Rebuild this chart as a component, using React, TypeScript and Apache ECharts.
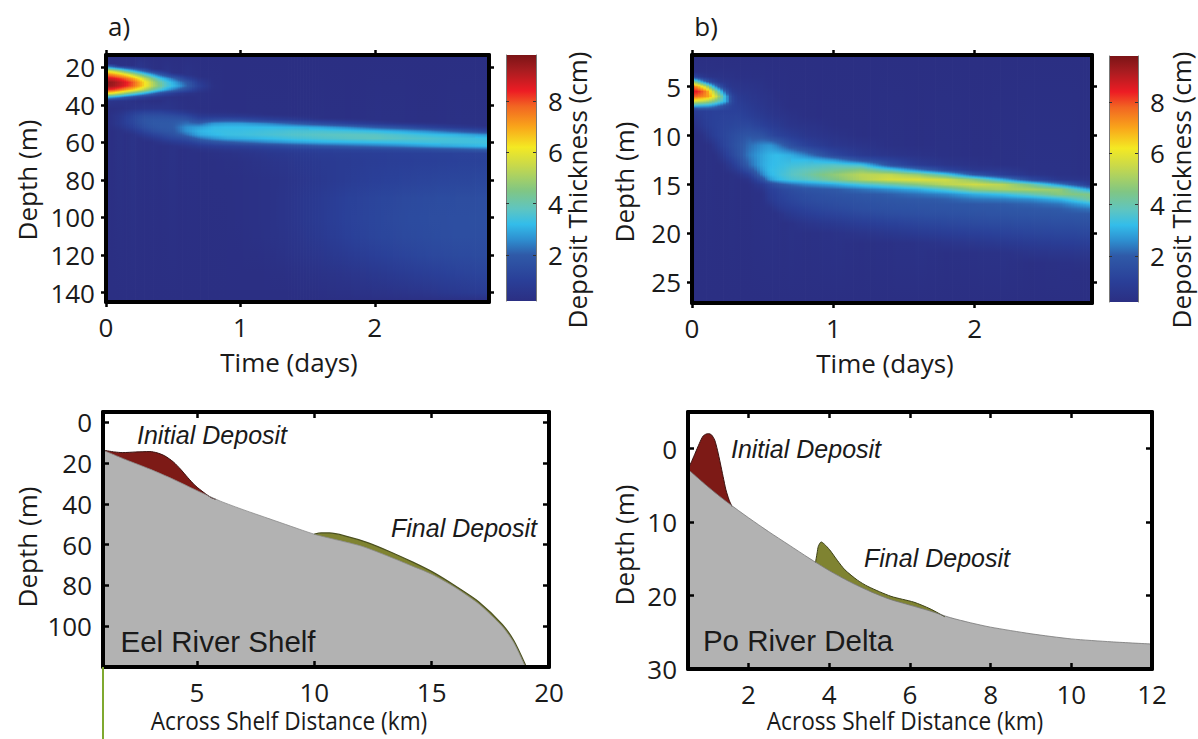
import { useEffect, useRef } from 'react';
import * as echarts from 'echarts';

const LABEL_FONT = '"Open Sans", sans-serif';
const NOTE_FONT = '"Liberation Sans", sans-serif';

// colour scale of the bars: thickness (cm) -> colour
const scaleValues = [0.2, 1, 2, 2.6, 3.2, 3.8, 4.5, 5.5, 6.2, 7, 7.8, 8.4, 9.2, 9.8];
const scaleColors = ['#2b2f83', '#2a3f98', '#2f5aa8', '#2e8fd0', '#33bdea', '#5fc5c0', '#80c684', '#c9d94a', '#f4e923', '#f9a51a', '#f26522', '#ed1c24', '#a81c20', '#7b1416'];
const BASE_THICKNESS = 0.2;

// a) Eel: one thickness profile per time, as [depth, thickness]
const timesA = [0, 0.05, 0.1, 0.15, 0.2, 0.25, 0.3, 0.35, 0.4, 0.45, 0.5, 0.55, 0.6, 0.7, 0.8, 0.9, 1, 1.2, 1.4, 1.6, 1.8, 2, 2.2, 2.4, 2.6, 2.83];
const profilesA: number[][][] = [
  [[18, 0.3], [20, 3], [22, 6], [24, 7.6], [26, 8.8], [28, 9.6], [30, 9.5], [32, 8.4], [34, 6.2], [36, 3.2], [38, 0.6], [42, 0.25]],
  [[18, 0.25], [20, 2.4], [22, 5.5], [24, 7.3], [26, 8.6], [28, 9.4], [30, 9.3], [32, 8.2], [34, 5.9], [36, 2.8], [38, 0.5], [42, 0.25], [46, 0.4], [50, 0.4], [54, 0.22]],
  [[19, 0.3], [20, 1.8], [22, 4.8], [24, 6.8], [26, 8.2], [28, 9], [30, 8.9], [32, 7.7], [34, 5.3], [36, 2.4], [38, 0.45], [42, 0.28], [46, 0.6], [50, 0.65], [54, 0.35]],
  [[19, 0.3], [20, 1.3], [22, 3.9], [24, 6.2], [26, 7.7], [28, 8.5], [30, 8.4], [32, 7.1], [34, 4.6], [36, 1.9], [38, 0.4], [42, 0.35], [44, 0.65], [46, 0.9], [48, 1], [50, 0.95], [52, 0.75], [54, 0.45], [56, 0.25]],
  [[19, 0.25], [20, 0.9], [22, 3.2], [24, 5.4], [26, 7], [28, 7.9], [30, 7.8], [32, 6.5], [34, 4], [36, 1.5], [38, 0.35], [42, 0.45], [44, 0.9], [46, 1.2], [48, 1.3], [50, 1.25], [52, 1.05], [54, 0.7], [56, 0.4]],
  [[20, 0.6], [22, 2.4], [24, 4.5], [26, 6.2], [28, 7], [30, 7], [32, 5.8], [34, 3.4], [36, 1.1], [38, 0.3], [42, 0.5], [44, 1.05], [46, 1.45], [48, 1.6], [50, 1.55], [52, 1.35], [54, 1], [56, 0.6], [58, 0.3]],
  [[20, 0.4], [22, 1.7], [24, 3.6], [26, 5.2], [28, 6.1], [30, 6.1], [32, 5], [34, 2.8], [36, 0.8], [38, 0.28], [42, 0.55], [44, 1.15], [46, 1.6], [48, 1.8], [50, 1.8], [52, 1.65], [54, 1.3], [56, 0.85], [58, 0.45], [60, 0.25]],
  [[21, 0.3], [22, 1.1], [24, 2.8], [26, 4.3], [28, 5.1], [30, 5.2], [32, 4.2], [34, 2.2], [36, 0.6], [38, 0.25], [42, 0.55], [44, 1.15], [46, 1.6], [48, 1.85], [50, 1.9], [52, 1.8], [54, 1.55], [56, 1.1], [58, 0.65], [60, 0.32]],
  [[21, 0.25], [22, 0.7], [24, 2], [26, 3.4], [28, 4.2], [30, 4.4], [32, 3.5], [34, 1.6], [36, 0.45], [38, 0.22], [42, 0.55], [44, 1.15], [46, 1.6], [48, 1.85], [50, 1.95], [52, 1.9], [54, 1.7], [56, 1.3], [58, 0.85], [60, 0.45], [62, 0.25]],
  [[22, 0.4], [24, 1.4], [26, 2.8], [28, 3.5], [30, 3.6], [32, 2.9], [34, 1.2], [36, 0.35], [42, 0.5], [44, 1.05], [46, 1.55], [48, 1.85], [50, 1.95], [52, 1.95], [54, 1.85], [56, 1.5], [58, 1.1], [60, 0.6], [62, 0.3]],
  [[23, 0.3], [24, 0.9], [26, 2.2], [28, 3], [30, 3.2], [32, 2.4], [34, 0.9], [36, 0.3], [42, 0.45], [44, 0.95], [46, 1.5], [48, 1.85], [50, 2], [52, 2], [54, 1.9], [56, 1.65], [58, 1.25], [60, 0.75], [62, 0.38]],
  [[23, 0.25], [24, 0.6], [26, 1.6], [28, 2.4], [30, 2.7], [32, 1.9], [34, 0.6], [36, 0.25], [42, 0.35], [44, 0.8], [46, 1.4], [48, 1.85], [50, 2.1], [52, 2.3], [54, 2.25], [56, 1.9], [58, 1.35], [60, 0.85], [62, 0.42], [64, 0.24]],
  [[24, 0.4], [26, 1.1], [28, 1.9], [30, 2.1], [32, 1.5], [34, 0.45], [36, 0.22], [42, 0.3], [44, 0.65], [46, 1.3], [48, 1.8], [50, 2.25], [52, 2.65], [54, 2.65], [56, 2.25], [58, 1.55], [60, 0.95], [62, 0.5], [64, 0.28]],
  [[25, 0.25], [26, 0.4], [28, 0.7], [30, 0.9], [32, 0.6], [34, 0.3], [42, 0.25], [44, 0.35], [46, 0.7], [48, 1.3], [50, 2.1], [52, 2.85], [54, 3.1], [56, 2.95], [58, 2.2], [60, 1.4], [62, 0.75], [64, 0.38], [66, 0.25]],
  [[28, 0.25], [30, 0.3], [32, 0.25], [42, 0.22], [44, 0.3], [46, 0.7], [48, 1.5], [50, 2.7], [52, 3.15], [54, 3.25], [56, 3.15], [58, 2.6], [60, 1.7], [62, 0.9], [64, 0.45], [66, 0.3], [70, 0.25]],
  [[42, 0.22], [44, 0.3], [46, 0.65], [48, 1.6], [50, 2.8], [52, 3.2], [54, 3.3], [56, 3.3], [58, 2.9], [60, 1.9], [62, 1], [64, 0.55], [66, 0.35], [70, 0.28], [80, 0.25]],
  [[43, 0.22], [44, 0.25], [46, 0.6], [48, 1.5], [50, 2.8], [52, 3.2], [54, 3.3], [56, 3.35], [58, 3], [60, 2.1], [62, 1.1], [64, 0.6], [66, 0.42], [70, 0.3], [80, 0.27], [100, 0.27], [120, 0.22]],
  [[45, 0.25], [46, 0.45], [48, 1.1], [50, 2.5], [52, 3.2], [54, 3.4], [56, 3.5], [58, 3.2], [60, 2.5], [62, 1.3], [64, 0.8], [66, 0.6], [70, 0.45], [80, 0.35], [90, 0.35], [100, 0.35], [110, 0.35], [120, 0.28], [130, 0.22]],
  [[45, 0.22], [46, 0.3], [48, 0.8], [50, 2], [52, 3.1], [54, 3.5], [56, 3.65], [58, 3.4], [60, 2.8], [62, 1.6], [64, 0.95], [66, 0.72], [70, 0.6], [80, 0.5], [90, 0.55], [100, 0.55], [110, 0.5], [120, 0.42], [130, 0.28], [140, 0.22]],
  [[47, 0.28], [48, 0.55], [50, 1.5], [52, 2.9], [54, 3.5], [56, 3.75], [58, 3.55], [60, 3], [62, 1.9], [64, 1.05], [66, 0.85], [70, 0.72], [80, 0.68], [90, 0.78], [100, 0.8], [110, 0.72], [120, 0.58], [130, 0.38], [140, 0.26]],
  [[47, 0.22], [48, 0.4], [50, 1.1], [52, 2.5], [54, 3.4], [56, 3.8], [58, 3.7], [60, 3.1], [62, 2.1], [64, 1.15], [66, 0.9], [70, 0.82], [80, 0.85], [90, 1.05], [100, 1.08], [110, 1], [120, 0.78], [130, 0.5], [140, 0.32]],
  [[48, 0.3], [50, 0.8], [52, 2], [54, 3.2], [56, 3.75], [58, 3.8], [60, 3.2], [62, 2.3], [64, 1.25], [66, 0.95], [70, 0.9], [80, 1], [90, 1.2], [100, 1.25], [110, 1.2], [120, 0.98], [130, 0.65], [140, 0.38]],
  [[49, 0.28], [50, 0.55], [52, 1.6], [54, 2.9], [56, 3.55], [58, 3.7], [60, 3.3], [62, 2.5], [64, 1.35], [66, 1], [70, 0.95], [80, 1.1], [90, 1.35], [100, 1.4], [110, 1.35], [120, 1.15], [130, 0.8], [140, 0.45], [145, 0.3]],
  [[49, 0.24], [50, 0.4], [52, 1.1], [54, 2.5], [56, 3.3], [58, 3.6], [60, 3.4], [62, 2.8], [64, 1.5], [66, 1.05], [70, 1], [80, 1.2], [90, 1.45], [100, 1.5], [110, 1.45], [120, 1.3], [130, 0.95], [140, 0.55], [145, 0.35]],
  [[50, 0.3], [52, 0.75], [54, 1.9], [56, 3.1], [58, 3.45], [60, 3.4], [62, 3], [64, 1.7], [66, 1.1], [70, 1.05], [80, 1.25], [90, 1.5], [100, 1.55], [110, 1.55], [120, 1.4], [130, 1.1], [140, 0.7], [145, 0.45]],
  [[51, 0.28], [52, 0.5], [54, 1.2], [56, 2.7], [58, 3.3], [60, 3.4], [62, 3.2], [64, 2], [66, 1.15], [70, 1.1], [80, 1.3], [90, 1.55], [100, 1.6], [110, 1.55], [120, 1.45], [130, 1.2], [140, 0.85], [145, 0.55]],
];

// b) Po: same layout
const timesB = [0, 0.04, 0.08, 0.12, 0.16, 0.2, 0.24, 0.28, 0.32, 0.4, 0.5, 0.55, 0.6, 0.65, 0.7, 0.8, 0.9, 1, 1.2, 1.4, 1.6, 1.8, 2, 2.2, 2.4, 2.6, 2.83];
const profilesB: number[][][] = [
  [[3.5, 0.35], [4, 1.5], [4.5, 5], [5, 8], [5.5, 8.7], [6, 8], [6.5, 6], [7, 3], [7.3, 1.2], [7.5, 0.8], [8, 0.6], [8.5, 0.4], [9, 0.25]],
  [[3.5, 0.3], [4, 1], [4.5, 3.8], [5, 7], [5.5, 8.4], [6, 7.7], [6.5, 5.6], [7, 2.9], [7.5, 0.85], [8, 0.75], [9, 0.5], [10, 0.25]],
  [[3.5, 0.28], [4, 0.6], [4.5, 2.6], [5, 6], [5.5, 7.8], [6, 7.4], [6.5, 5.4], [7, 2.8], [7.5, 0.95], [8, 0.9], [9, 0.75], [10, 0.4], [11, 0.22]],
  [[3.5, 0.28], [4, 0.45], [4.5, 1.6], [5, 4.5], [5.5, 6.8], [6, 7], [6.5, 5], [7, 2.7], [7.5, 1], [8, 1], [9, 0.95], [10, 0.7], [11, 0.3]],
  [[3.5, 0.28], [4, 0.4], [4.5, 1], [5, 2.8], [5.5, 5], [6, 6], [6.5, 4.4], [7, 2.4], [7.5, 1.05], [8, 1.05], [9, 1.05], [10, 0.95], [11, 0.55], [12, 0.25]],
  [[3, 0.25], [4, 0.4], [4.5, 0.6], [5, 1.6], [5.5, 3.4], [6, 4.5], [6.5, 3.7], [7, 1.9], [7.5, 1.05], [8, 1.1], [9, 1.15], [10, 1.15], [11, 0.95], [12, 0.55], [13, 0.25]],
  [[3, 0.25], [4, 0.35], [4.5, 0.5], [5, 0.8], [5.5, 1.8], [6, 3], [6.5, 3], [7, 1.4], [7.5, 1.05], [8, 1.1], [9, 1.2], [10, 1.3], [11, 1.25], [12, 0.95], [13, 0.45], [14, 0.22]],
  [[3, 0.25], [4, 0.35], [4.5, 0.45], [5, 0.55], [5.5, 0.8], [6, 1.3], [6.5, 1.4], [7, 1.1], [7.5, 1.05], [8, 1.1], [9, 1.25], [10, 1.45], [11, 1.5], [12, 1.3], [13, 0.75], [14, 0.3]],
  [[3, 0.25], [4, 0.3], [5, 0.5], [5.5, 0.6], [6, 0.75], [7, 0.95], [8, 1.15], [9, 1.3], [10, 1.6], [11, 1.75], [12, 1.65], [13, 1.15], [14, 0.4], [14.5, 0.25]],
  [[3, 0.25], [4, 0.3], [5, 0.45], [6, 0.6], [7, 0.75], [8, 0.95], [9, 1.35], [10, 1.8], [11, 2.2], [12, 2.35], [13, 2.1], [13.5, 1.6], [14, 0.9], [14.5, 0.4], [15, 0.25]],
  [[4, 0.28], [5, 0.38], [6, 0.45], [7, 0.55], [8, 0.7], [9, 1.05], [10, 1.7], [11, 2.6], [12, 2.9], [13, 2.95], [13.5, 2.8], [14, 2.5], [14.5, 1.7], [15, 0.8], [15.5, 0.5], [16, 0.35]],
  [[5, 0.28], [6, 0.4], [7, 0.45], [8, 0.6], [9, 0.85], [10, 1.4], [11, 2.7], [12, 3.1], [13, 3.15], [13.5, 3.2], [14, 3.1], [14.5, 2.7], [15, 1.3], [15.5, 0.95], [16, 0.85], [16.5, 0.75], [17, 0.55], [17.5, 0.35]],
  [[6, 0.28], [7, 0.4], [8, 0.5], [9, 0.75], [10, 1.15], [11, 2.4], [12, 3.2], [13, 3.25], [13.5, 3.3], [14, 3.3], [14.5, 3.1], [15, 1.7], [15.5, 1.15], [16, 1.05], [16.5, 0.95], [17, 0.8], [17.5, 0.6], [18, 0.35]],
  [[7, 0.28], [9, 0.6], [10, 1], [11, 2], [12, 3.1], [13, 3.3], [13.5, 3.4], [14, 3.5], [14.5, 3.3], [15, 2], [15.5, 1.35], [16, 1.2], [16.5, 1.1], [17, 0.95], [17.5, 0.8], [18, 0.55], [19, 0.28]],
  [[7, 0.25], [9, 0.5], [10, 0.85], [11, 1.6], [12, 3], [13, 3.4], [13.5, 3.6], [14, 3.7], [14.5, 3.5], [15, 2.2], [15.5, 1.5], [16, 1.35], [16.5, 1.25], [17, 1.1], [17.5, 0.9], [18, 0.7], [19, 0.35]],
  [[8, 0.25], [10, 0.6], [11, 1.1], [12, 2.5], [12.5, 3.2], [13, 3.5], [13.5, 3.8], [14, 4], [14.5, 3.7], [15, 2.5], [15.5, 1.75], [16, 1.55], [16.5, 1.45], [17, 1.3], [17.5, 1.1], [18, 0.9], [19, 0.5], [20, 0.28]],
  [[8, 0.22], [10, 0.5], [11, 0.8], [12, 1.9], [12.5, 3], [13, 3.6], [13.5, 4], [14, 4.4], [14.5, 4], [15, 2.7], [15.5, 1.85], [16, 1.65], [16.5, 1.55], [17, 1.4], [17.5, 1.25], [18, 1.05], [19, 0.6], [20, 0.32]],
  [[9, 0.25], [10, 0.4], [11, 0.6], [12, 1.3], [12.5, 2.7], [13, 3.7], [13.5, 4.2], [14, 4.7], [14.5, 4.4], [15, 2.9], [15.5, 1.95], [16, 1.75], [16.5, 1.6], [17, 1.5], [17.5, 1.35], [18, 1.15], [19, 0.7], [20, 0.38]],
  [[10, 0.25], [11, 0.45], [12, 0.7], [12.5, 1.6], [13, 3.4], [13.5, 4.6], [14, 5.3], [14.5, 5.2], [15, 3.5], [15.5, 2.25], [16, 1.9], [16.5, 1.75], [17, 1.65], [17.5, 1.55], [18, 1.35], [19, 0.9], [20, 0.5], [21, 0.27]],
  [[11, 0.3], [12, 0.5], [13, 1.6], [13.5, 3.6], [14, 5.4], [14.5, 5.7], [15, 4], [15.5, 2.6], [16, 2.05], [16.5, 1.85], [17, 1.75], [17.5, 1.65], [18, 1.5], [19, 1.05], [20, 0.62], [21, 0.32]],
  [[11, 0.25], [12, 0.38], [13, 0.8], [13.5, 2.4], [14, 4.8], [14.5, 5.8], [15, 4.6], [15.5, 3], [16, 2.25], [16.5, 1.95], [17, 1.8], [17.5, 1.7], [18, 1.6], [19, 1.2], [20, 0.78], [21, 0.38]],
  [[12, 0.3], [13, 0.5], [13.5, 1.2], [14, 3.6], [14.5, 5.6], [15, 5.3], [15.5, 3.7], [16, 2.5], [16.5, 2.05], [17, 1.85], [17.5, 1.75], [18, 1.65], [19, 1.3], [20, 0.9], [21, 0.5], [22, 0.27]],
  [[12, 0.25], [13, 0.38], [13.5, 0.6], [14, 1.8], [14.5, 4.6], [15, 5.6], [15.5, 4.7], [16, 3], [16.5, 2.3], [17, 1.9], [17.5, 1.8], [18, 1.7], [19, 1.4], [20, 1], [21, 0.6], [22, 0.32]],
  [[13, 0.3], [14, 0.9], [14.5, 3], [15, 5.3], [15.5, 5.1], [16, 3.3], [16.5, 2.4], [17, 2], [17.5, 1.85], [18, 1.75], [19, 1.45], [20, 1.1], [21, 0.7], [22, 0.38]],
  [[13.5, 0.35], [14, 0.5], [14.5, 1.4], [15, 4.2], [15.5, 5.1], [16, 3.9], [16.5, 2.6], [17, 2.1], [17.5, 1.9], [18, 1.8], [19, 1.5], [20, 1.2], [21, 0.8], [22, 0.48], [23, 0.25]],
  [[14, 0.35], [14.5, 0.6], [15, 2.6], [15.5, 4.8], [16, 4.6], [16.5, 3.1], [17, 2.3], [17.5, 2], [18, 1.85], [19, 1.55], [20, 1.25], [21, 0.9], [22, 0.55], [23, 0.3]],
  [[14, 0.3], [14.5, 0.42], [15, 0.7], [15.5, 2.7], [16, 4.5], [16.5, 4.3], [17, 3.1], [17.5, 2.3], [18, 1.9], [19, 1.6], [20, 1.3], [21, 0.95], [22, 0.6], [23, 0.35], [24, 0.22]],
];

// c) Eel River shelf section
const eelDistance = [1, 2, 3, 4, 5, 6, 7, 8, 9, 10, 11, 12, 13, 14, 15, 16, 17, 18, 18.5, 19];
const eelBed = [13.7, 18.5, 23, 28, 33.5, 38.7, 43, 47, 51, 54.9, 57.8, 60.7, 65, 69.7, 74.5, 81, 89, 100, 108, 120];
const eelInitialDistance = [1, 1.5, 1.84, 2.4, 3, 3.3, 3.63, 4, 4.3, 4.6, 4.94, 5.3, 5.6, 5.8];
const eelInitialTop = [13.7, 14.6, 14.9, 14.6, 14.4, 15, 16.5, 19.5, 23, 27, 31.2, 34.5, 36.9, 37.8];
const eelFinalDistance = [10, 10.3, 10.65, 11.3, 12.27, 13.25, 14.2, 15.05, 16, 17, 18, 18.5, 19];
const eelFinalTop = [54.9, 54.3, 54.3, 55.7, 59, 63.6, 68.6, 73.5, 80.2, 88, 99, 107, 119];

// d) Po River delta section
const poDistance = [0.5, 1, 1.5, 2, 2.5, 3, 3.5, 4, 4.5, 5, 5.5, 6, 6.5, 7, 7.5, 8, 9, 10, 11, 12];
const poBed = [2.8, 5.2, 7.4, 9.4, 11.3, 13.1, 14.9, 16.6, 18.1, 19.4, 20.5, 21.3, 22.1, 23, 23.7, 24.3, 25.2, 25.9, 26.3, 26.6];
const poInitialDistance = [0.5, 0.6, 0.68, 0.78, 0.87, 0.95, 1.01, 1.08, 1.16, 1.23, 1.3, 1.37, 1.44, 1.52, 1.59];
const poInitialTop = [2.8, 1.6, 0.59, -0.7, -1.7, -2, -2.05, -1.9, -1.2, 0.2, 1.95, 3.8, 5.6, 7, 7.86];
const poFinalDistance = [3.66, 3.7, 3.73, 3.8, 3.88, 4.01, 4.2, 4.39, 4.7, 4.96, 5.53, 6.1, 6.5, 6.87];
const poFinalTop = [15.5, 14.2, 13.3, 12.7, 13, 13.76, 15.2, 16.5, 17.9, 18.76, 20.1, 20.9, 21.8, 22.9];

const thicknessColor = (v: number) => {
  let i = 0;
  while (i < scaleValues.length - 2 && v > scaleValues[i + 1]) i++;
  const f = (v - scaleValues[i]) / (scaleValues[i + 1] - scaleValues[i]);
  return echarts.color.lerp(Math.min(1, Math.max(0, f)), [scaleColors[i], scaleColors[i + 1]]) as string;
};

const withEnds = (profile: number[][], dMin: number, dMax: number) => [[dMin, BASE_THICKNESS], ...profile, [dMax, BASE_THICKNESS]];

const profileAt = (pts: number[][], d: number) => {
  let i = 0;
  while (i < pts.length - 2 && d > pts[i + 1][0]) i++;
  const f = (d - pts[i][0]) / (pts[i + 1][0] - pts[i][0]);
  return pts[i][1] + (pts[i + 1][1] - pts[i][1]) * Math.min(1, Math.max(0, f));
};

// shading only, like matlab's "shading interp": one vertical gradient for a thin strip
// between two read profiles
const stripStops = (left: number[][], right: number[][], mix: number, dMin: number, dMax: number) => {
  const a = withEnds(left, dMin, dMax);
  const b = withEnds(right, dMin, dMax);
  const depths = Array.from(new Set([...a, ...b].map((p) => p[0]))).sort((p, q) => p - q);
  const valueAt = (d: number) => profileAt(a, d) * (1 - mix) + profileAt(b, d) * mix;
  const stops: { offset: number; color: string }[] = [];
  for (let i = 0; i < depths.length - 1; i++) {
    const v0 = valueAt(depths[i]);
    const v1 = valueAt(depths[i + 1]);
    const n = Math.abs(v1 - v0) > 0.5 ? 4 : 1;
    for (let k = 0; k < n; k++) {
      stops.push({
        offset: (depths[i] + ((depths[i + 1] - depths[i]) * k) / n - dMin) / (dMax - dMin),
        color: thicknessColor(v0 + ((v1 - v0) * k) / n),
      });
    }
  }
  stops.push({ offset: 1, color: thicknessColor(BASE_THICKNESS) });
  return stops;
};

const App = () => {
  const chartRef = useRef<HTMLDivElement>(null);

  useEffect(() => {
    if (!chartRef.current) return;
    const chart = echarts.init(chartRef.current, null, { renderer: 'svg' });

    const grids: any[] = [];
    const xAxes: any[] = [];
    const yAxes: any[] = [];
    const series: any[] = [];

    const addFrame = (box: number[], xr: number[], yr: number[], xt: number[], yt: number[], inside: boolean) => {
      const gridIndex = grids.length;
      grids.push({ left: box[0], top: box[1], width: box[2] - box[0], height: box[3] - box[1] });
      const base = (ticks: number[], show: boolean, margin: number) => ({
        gridIndex,
        type: 'value',
        z: 5,
        splitLine: { show: false },
        axisLine: { show: true, onZero: false, lineStyle: { color: '#000', width: 4 } },
        axisTick: { show: true, inside, length: inside ? 6 : 5, customValues: ticks, lineStyle: { color: '#000', width: 2.5 } },
        axisLabel: { show, customValues: ticks, margin, color: '#1a1a1a', fontFamily: LABEL_FONT, fontSize: 26 },
      });
      const xIndex = xAxes.length;
      const yIndex = yAxes.length;
      xAxes.push({ ...base(xt, true, 12), min: xr[0], max: xr[1], position: 'bottom' });
      xAxes.push({ ...base(xt, false, 0), min: xr[0], max: xr[1], position: 'top' });
      yAxes.push({ ...base(yt, true, 11), min: yr[0], max: yr[1], inverse: true, position: 'left' });
      yAxes.push({ ...base(yt, false, 0), min: yr[0], max: yr[1], inverse: true, position: 'right' });
      return { xAxisIndex: xIndex, yAxisIndex: yIndex };
    };

    const addHeat = (box: number[], xr: number[], yr: number[], xt: number[], yt: number[], times: number[], profiles: number[][][]) => {
      const idx = addFrame(box, xr, yr, xt, yt, false);
      const pxPerDay = (box[2] - box[0]) / (xr[1] - xr[0]);
      const strips: number[][] = [];
      times.forEach((t, i) => {
        if (i === times.length - 1) {
          strips.push([t, xr[1], i, i, 0]);
          return;
        }
        const next = times[i + 1];
        const n = Math.ceil(((next - t) * pxPerDay) / 3);
        for (let k = 0; k < n; k++) {
          strips.push([t + ((next - t) * k) / n, t + ((next - t) * (k + 1)) / n, i, i + 1, (k + 0.5) / n]);
        }
      });
      series.push({
        type: 'custom',
        ...idx,
        silent: true,
        clip: true,
        encode: { x: [0, 1] },
        data: strips,
        renderItem: (_: any, api: any) => {
          const start = api.coord([api.value(0), yr[0]]);
          const end = api.coord([api.value(1), yr[1]]);
          const stops = stripStops(profiles[api.value(2)], profiles[api.value(3)], api.value(4), yr[0], yr[1]);
          return {
            type: 'rect',
            shape: { x: start[0], y: start[1], width: end[0] - start[0] + 0.8, height: end[1] - start[1] },
            style: { fill: new echarts.graphic.LinearGradient(0, 0, 0, 1, stops) },
          };
        },
      });
    };

    const addColorbar = (box: number[]) => {
      const gridIndex = grids.length;
      grids.push({ left: box[0], top: box[1], width: box[2] - box[0], height: box[3] - box[1] });
      const ticks = [2, 4, 6, 8];
      const bar = (show: boolean, position: string) => ({
        gridIndex,
        type: 'value',
        min: 0.2,
        max: 9.8,
        position,
        z: 5,
        splitLine: { show: false },
        axisLine: { show: true, onZero: false, lineStyle: { color: '#777', width: 1 } },
        axisTick: { show: true, inside: true, length: 3, customValues: ticks, lineStyle: { color: '#333', width: 1 } },
        axisLabel: { show, customValues: ticks, margin: 12, color: '#1a1a1a', fontFamily: LABEL_FONT, fontSize: 26 },
      });
      const xAxisIndex = xAxes.length;
      const yAxisIndex = yAxes.length;
      xAxes.push({ gridIndex, type: 'value', min: 0, max: 1, show: false });
      yAxes.push(bar(true, 'right'));
      yAxes.push(bar(false, 'left'));
      series.push({
        type: 'custom',
        xAxisIndex,
        yAxisIndex,
        silent: true,
        encode: { x: 0, y: 1 },
        data: [[0, 0.2, 1, 9.8]],
        renderItem: (_: any, api: any) => {
          const a = api.coord([api.value(0), api.value(3)]);
          const b = api.coord([api.value(2), api.value(1)]);
          const stops = scaleValues.map((v, i) => ({ offset: (9.8 - v) / 9.6, color: scaleColors[i] })).reverse();
          return {
            type: 'rect',
            shape: { x: a[0], y: a[1], width: b[0] - a[0], height: b[1] - a[1] },
            style: { fill: new echarts.graphic.LinearGradient(0, 0, 0, 1, stops) },
          };
        },
      });
    };

    const addLayer = (idx: any, xs: number[], ys: number[], fill: string, line: string, lineWidth: number) => {
      series.push({
        type: 'line',
        ...idx,
        silent: true,
        clip: true,
        symbol: 'none',
        smooth: 0.25,
        data: xs.map((x, i) => [x, ys[i]]),
        lineStyle: { color: line, width: lineWidth },
        areaStyle: { color: fill, opacity: 1, origin: 'end' },
      });
    };

    addHeat([106, 55, 489, 302], [0, 2.85], [13.5, 145], [0, 1, 2], [20, 40, 60, 80, 100, 120, 140], timesA, profilesA);
    addColorbar([506, 55, 536, 301]);
    addHeat([692, 55, 1092, 303], [0, 2.83], [1.77, 27.1], [0, 1, 2], [5, 10, 15, 20, 25], timesB, profilesB);
    addColorbar([1109, 56, 1138, 302]);

    const eel = addFrame([103, 412, 549, 667], [1, 20], [-5, 120], [5, 10, 15, 20], [0, 20, 40, 60, 80, 100], true);
    addLayer(eel, eelInitialDistance, eelInitialTop, '#7d1a16', '#3a1210', 1);
    addLayer(eel, eelFinalDistance, eelFinalTop, '#7f8331', '#4b5020', 1.2);
    addLayer(eel, eelDistance, eelBed, '#b2b2b2', '#8c8c8c', 0.8);

    const po = addFrame([688, 412, 1152, 669], [0.5, 12], [-5, 30], [2, 4, 6, 8, 10, 12], [0, 10, 20, 30], true);
    addLayer(po, poInitialDistance, poInitialTop, '#7d1a16', '#3a1210', 1);
    addLayer(po, poFinalDistance, poFinalTop, '#7f8331', '#3c4018', 1);
    addLayer(po, poDistance, poBed, '#b2b2b2', '#777', 0.8);

    const text = (value: string, x: number, y: number, font: string, rotation = 0, scaleX = 1) => ({
      type: 'text',
      x,
      y,
      rotation,
      scaleX,
      z: 20,
      style: { text: value, fill: '#1a1a1a', font, align: 'center', verticalAlign: 'middle' },
    });
    const labelFont = `26px ${LABEL_FONT}`;
    const noteFont = `italic 25px ${NOTE_FONT}`;
    const placeFont = `29.5px ${NOTE_FONT}`;

    chart.setOption({
      animation: false,
      backgroundColor: '#fff',
      grid: grids,
      xAxis: xAxes,
      yAxis: yAxes,
      series,
      graphic: [
        text('a)', 119, 26, labelFont),
        text('b)', 706, 26, labelFont),
        text('Depth (m)', 27, 180, labelFont, Math.PI / 2),
        text('Depth (m)', 624, 182, labelFont, Math.PI / 2),
        text('Depth (m)', 27, 547, labelFont, Math.PI / 2),
        text('Depth (m)', 624, 545, labelFont, Math.PI / 2),
        text('Time (days)', 289, 362, labelFont),
        text('Time (days)', 885, 363, labelFont),
        text('Deposit Thickness (cm)', 577, 190, labelFont, Math.PI / 2),
        text('Deposit Thickness (cm)', 1181, 190, labelFont, Math.PI / 2),
        text('Across Shelf Distance (km)', 289, 720, labelFont, 0, 0.87),
        text('Across Shelf Distance (km)', 905, 720, labelFont, 0, 0.87),
        text('Initial Deposit', 212, 435, noteFont),
        text('Final Deposit', 464, 528, noteFont),
        text('Initial Deposit', 806, 449, noteFont),
        text('Final Deposit', 937, 558, noteFont),
        text('Eel River Shelf', 218, 641, placeFont),
        text('Po River Delta', 798, 640, placeFont),
        { type: 'line', z: 20, shape: { x1: 103, y1: 667, x2: 103, y2: 739 }, style: { stroke: '#7fa92f', lineWidth: 2 } },
      ],
    });

    return () => {
      chart.dispose();
    };
  }, []);

  return <div ref={chartRef} style={{ position: 'absolute', left: 0, top: 0, width: 1198, height: 739 }} />;
};

export default App;
